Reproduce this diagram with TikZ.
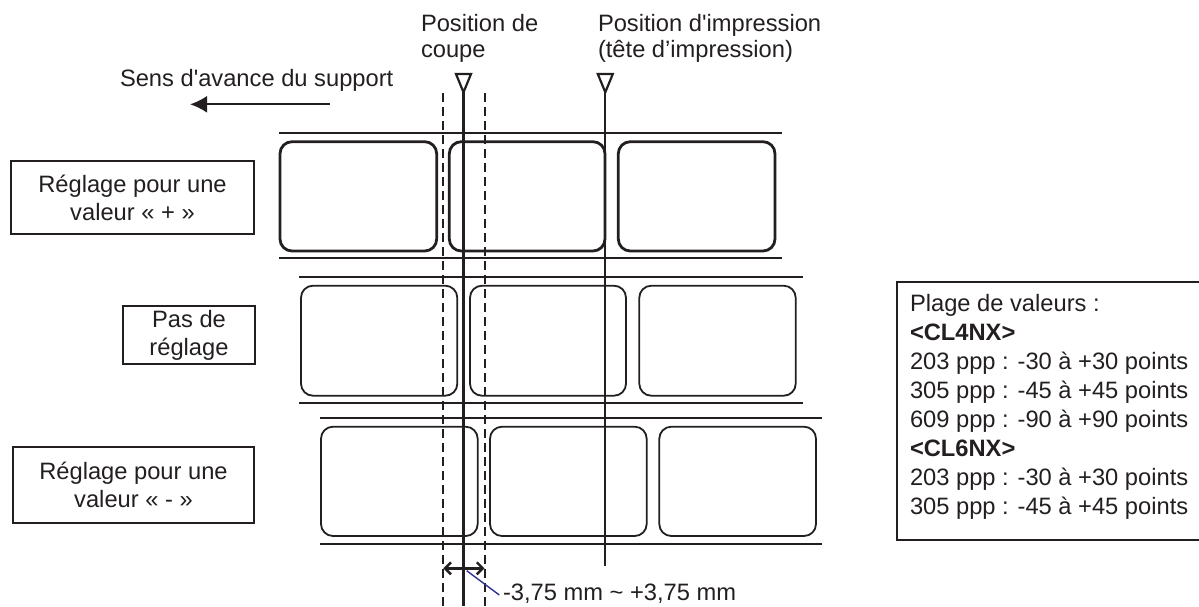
\documentclass[tikz,border=0pt]{standalone}
\usepackage{fontspec}
\setmainfont{Liberation Sans}[Ligatures=TeXOff]
\usetikzlibrary{arrows.meta}
\definecolor{ink}{HTML}{231F20}
\definecolor{leadblue}{HTML}{2E3192}
\begin{document}
\begin{tikzpicture}[x=1pt,y=-1pt,
  every node/.style={font=\fontsize{23.7}{28}\selectfont, text=ink, inner sep=0pt, outer sep=0pt},
  feedline/.style={draw=ink, line width=2.2pt},
  labelA/.style={draw=ink, line width=2.8pt, rounded corners=12pt},
  labelB/.style={draw=ink, line width=1.8pt, rounded corners=12pt},
  guide/.style={draw=ink, line width=2.2pt},
  cutguide/.style={draw=ink, line width=2pt, dash pattern=on 9pt off 5pt},
  tagbox/.style={draw=ink, line width=2.2pt, align=center},
  marker/.style={draw=ink, line width=2.2pt, line join=miter},
  barbs/.style={draw=ink, line width=2.4pt, {Straight Barb[length=6pt,width=12pt]}-{Straight Barb[length=6pt,width=12pt]}}
]
\useasboundingbox (0,0) rectangle (1199,606);

% row 1 (+)
\draw[feedline] (279,133.3) -- (782,133.3);
\draw[feedline] (279,258.3) -- (782,258.3);
\draw[labelA] (280,141.7) rectangle (436.7,251);
\draw[labelA] (449.3,141.7) rectangle (605,251);
\draw[labelA] (618.3,141.7) rectangle (775,251);

% row 2 (none)
\draw[feedline] (299.3,277.3) -- (802.7,277.3);
\draw[feedline] (299.3,402.7) -- (802.7,402.7);
\draw[labelB] (301,285.7) rectangle (457.3,395.7);
\draw[labelB] (470,285.7) rectangle (626,395.7);
\draw[labelB] (639.3,285.7) rectangle (795.7,395.7);

% row 3 (-)
\draw[feedline] (320,418.3) -- (822,418.3);
\draw[feedline] (320,543.7) -- (822,543.7);
\draw[labelB] (321,426.7) rectangle (477.7,536);
\draw[labelB] (490,426.7) rectangle (646.7,536);
\draw[labelB] (659.3,426.7) rectangle (816,536);

% guides
\coordinate (cuttip) at (463.5,92.3);
\coordinate (cutend) at (463.5,606);
\coordinate (printtip) at (605.3,92.3);
\coordinate (printend) at (605.3,566);
\coordinate (dashLtop) at (443.3,93);
\coordinate (dashLbot) at (443.3,606);
\coordinate (dashRtop) at (484.5,93);
\coordinate (dashRbot) at (484.5,606);
\draw[marker] (456,74) -- (471,74) -- (cuttip) -- cycle;
\draw[marker] (597.8,74) -- (612.8,74) -- (printtip) -- cycle;
\draw[guide] (cuttip) -- (cutend);
\draw[guide] (printtip) -- (printend);
\draw[cutguide] (dashLtop) -- (dashLbot);
\draw[cutguide] (dashRtop) -- (dashRbot);

% top labels
\node[anchor=north west, align=left, font=\fontsize{23.7}{26.5}\selectfont] (cutlbl) at (421,14.2) {Position de\\coupe};
\node[anchor=north west, align=left, font=\fontsize{23.7}{26.5}\selectfont] (printlbl) at (598,14.2) {Position d'impression\\(tête d’impression)};

% feed direction
\node[anchor=base west] (feedlbl) at (120,86) {Sens d'avance du support};
\coordinate (feedA) at (330,104.3);
\coordinate (feedB) at (190,104.3);
\draw[guide, -{Latex[length=17pt,width=17pt]}] (feedA) -- (feedB);

% row tags
\node[tagbox, minimum width=243pt, minimum height=73.6pt] (plus) at (132.5,197.5) {Réglage pour une\\valeur « + »};
\node[tagbox, minimum width=132.6pt, minimum height=58.6pt] (none) at (189,335) {Pas de\\réglage};
\node[tagbox, minimum width=241.6pt, minimum height=76pt] (minus) at (133.5,484.7) {Réglage pour une\\valeur « - »};

% range box
\draw[guide] (1203,282.3) -- (896.7,282.3) -- (896.7,540) -- (1203,540);
\node[anchor=north west, align=left, font=\fontsize{23.7}{29}\selectfont] (range) at (910,294) {Plage de valeurs :\\\textbf{<CL4NX>}\\203 ppp : -30 à +30 points\\305 ppp : -45 à +45 points\\609 ppp : -90 à +90 points\\\textbf{<CL6NX>}\\203 ppp : -30 à +30 points\\305 ppp : -45 à +45 points};

% adjustment
\coordinate (adjL) at (443.3,568.3);
\coordinate (adjR) at (484.5,568.3);
\draw[barbs] (adjL) -- (adjR);
\node[anchor=base west] (adjtxt) at (503,600.5) {-3,75 mm \textasciitilde{} +3,75 mm};
\coordinate (leadA) at (466.7,570.7);
\coordinate (leadB) at (499.3,595);
\draw[leadblue, line width=1.4pt] (leadA) -- (leadB);
\end{tikzpicture}
\end{document}
